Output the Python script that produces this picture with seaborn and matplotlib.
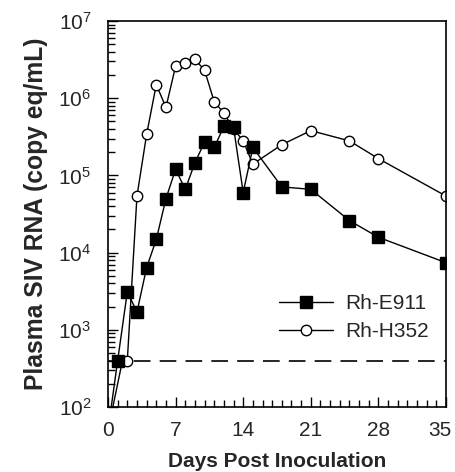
import matplotlib
matplotlib.use("Agg")
import matplotlib.pyplot as plt
import matplotlib.ticker as mticker
import matplotlib.transforms as mtransforms
import seaborn as sns
import pandas as pd
import numpy as np

# ---- data ----
days_e911 = [0, 1, 2, 3, 4, 5, 6, 7, 8, 9, 10, 11, 12, 13, 14, 15, 18, 21, 25, 28, 35]
rna_e911 = [50, 400, 3100, 1700, 6400, 14800, 50000, 120000, 66000, 146000, 270000,
            230000, 430000, 420000, 60000, 230000, 71000, 66000, 26000, 15800, 7400]
days_h352 = [0, 1.5, 2, 3, 4, 5, 6, 7, 8, 9, 10, 11, 12, 13, 14, 15, 18, 21, 25, 28, 35]
rna_h352 = [50, 400, 400, 54000, 340000, 1500000, 760000, 2600000, 2900000, 3200000,
            2300000, 900000, 640000, 400000, 280000, 140000, 250000, 380000, 280000,
            165000, 54000]
detection_limit = 400
x_ticks = [0, 7, 14, 21, 28, 35]
series_names = ["Rh-E911", "Rh-H352"]

df_e = pd.DataFrame({"day": days_e911, "rna": rna_e911, "animal": series_names[0]})
df_h = pd.DataFrame({"day": days_h352, "rna": rna_h352, "animal": series_names[1]})

sns.set_style("ticks")
plt.rcParams["font.family"] = ["Liberation Sans", "DejaVu Sans"]
plt.rcParams["mathtext.fontset"] = "custom"
plt.rcParams["mathtext.rm"] = "Liberation Sans"
plt.rcParams["mathtext.it"] = "Liberation Sans:italic"
plt.rcParams["mathtext.bf"] = "Liberation Sans:bold"

fig = plt.figure(figsize=(4.55, 4.72), dpi=100)
ax = fig.add_axes([108 / 455, 1 - 407 / 472, 338 / 455, 386 / 472])

sns.lineplot(data=df_h, x="day", y="rna", ax=ax, color="black", marker="o",
             markersize=7.5, markerfacecolor="white", markeredgecolor="black",
             markeredgewidth=1.0, linewidth=1.0, estimator=None, sort=False,
             label=series_names[1])
sns.lineplot(data=df_e, x="day", y="rna", ax=ax, color="black", marker="s",
             markersize=8, markerfacecolor="black", markeredgecolor="black",
             markeredgewidth=1.0, linewidth=1.0, estimator=None, sort=False,
             label=series_names[0])

ax.axhline(detection_limit, color="black", linewidth=1.2, dashes=(10, 5.5))

ax.set_yscale("log")
ax.set_ylim(100, 1e7)
ax.set_xlim(0, 35)
ax.set_xticks(x_ticks)
ax.xaxis.set_minor_locator(mticker.MultipleLocator(1))
ax.yaxis.set_major_locator(mticker.LogLocator(base=10, numticks=10))
ax.yaxis.set_minor_locator(mticker.LogLocator(base=10, subs=np.arange(2, 10), numticks=20))
ax.yaxis.set_minor_formatter(mticker.NullFormatter())
ax.yaxis.set_major_formatter(mticker.FuncFormatter(lambda v, p: r"$10^{%d}$" % round(np.log10(v))))

ax.tick_params(axis="both", which="both", direction="in", top=False, right=False,
               width=1.0, color="black")
ax.tick_params(axis="both", which="major", length=7, labelsize=15)
ax.tick_params(axis="both", which="minor", length=5)
ax.tick_params(axis="x", which="major", pad=10)
ax.tick_params(axis="y", which="major", pad=12)

for s in ax.spines.values():
    s.set_visible(True)
    s.set_linewidth(1.2)
    s.set_color("black")

ax.set_xlabel("Days Post Inoculation", fontsize=15, fontweight="bold", labelpad=9)
ax.set_ylabel("Plasma SIV RNA (copy eq/mL)", fontsize=17.7, fontweight="bold", labelpad=7)

# nudge the last x tick label inward so it stays inside the figure
fig.canvas.draw()
last = ax.get_xticklabels()[-1]
last.set_transform(last.get_transform() + mtransforms.ScaledTranslation(-6 / 100, 0, fig.dpi_scale_trans))

handles, labels = ax.get_legend_handles_labels()
order = [labels.index(n) for n in series_names]
ax.legend([handles[i] for i in order], [labels[i] for i in order],
          loc="upper left", bbox_to_anchor=(0.505, 0.292), frameon=False,
          fontsize=15, handlelength=2.6, handletextpad=0.6, labelspacing=0.42,
          borderpad=0, borderaxespad=0, numpoints=1)

fig.savefig("out.png", dpi=100)
